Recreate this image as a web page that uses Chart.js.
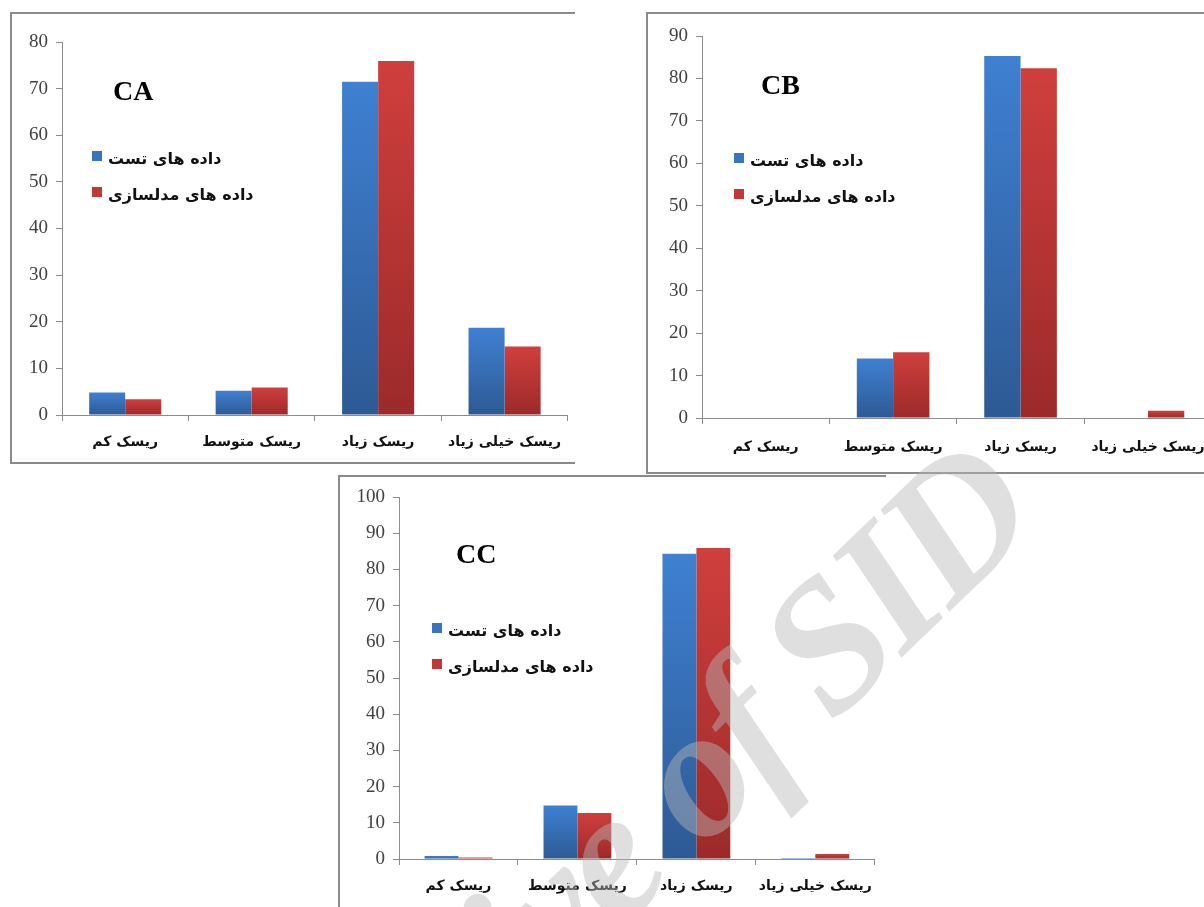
<!DOCTYPE html>
<html>
<head>
<meta charset="utf-8">
<script src="https://cdn.jsdelivr.net/npm/chart.js@4.4.0/dist/chart.umd.min.js"></script>
<style>
  html, body { margin: 0; padding: 0; background: #fff; }
  body { width: 1204px; height: 907px; overflow: hidden; position: relative; }
  .box { position: absolute; box-sizing: border-box; border: 0 solid #8a8a8a; }
  canvas { position: absolute; }
</style>
</head>
<body>
<div class="box" style="left:10px;top:12px;width:565px;height:452px;border-left-width:2px;border-top-width:2px;border-bottom-width:2px;"></div>
<div class="box" style="left:646px;top:12px;width:600px;height:462px;border-left-width:2px;border-top-width:2px;border-bottom-width:2px;"></div>
<div class="box" style="left:338px;top:475px;width:548px;height:460px;border-left-width:2px;border-top-width:2px;"></div>

<canvas id="ca" width="565" height="451" style="left:10px;top:12px;"></canvas>
<canvas id="cb" width="574" height="461" style="left:646px;top:12px;"></canvas>
<canvas id="cc" width="548" height="432" style="left:338px;top:475px;"></canvas>
<canvas id="mark" width="1204" height="907" style="left:0;top:0;pointer-events:none;"></canvas>

<script>
// categories and series
const categories = ['ریسک کم', 'ریسک متوسط', 'ریسک زیاد', 'ریسک خیلی زیاد'];
const seriesNames = ['داده های تست', 'داده های مدلسازی'];

// values
const caTest  = [4.8, 5.2, 71.5, 18.7];
const caModel = [3.4, 5.9, 75.9, 14.7];
const cbTest  = [0, 14.0, 85.3, 0];
const cbModel = [0, 15.5, 82.4, 1.7];
const ccTest  = [0.8, 14.8, 84.3, 0.3];
const ccModel = [0.4, 12.7, 85.9, 1.4];

const yMax = { CA: 80, CB: 90, CC: 100 };

const blueStops = ['#3f80d2', '#2d5a94'];
const redStops  = ['#cf3f3d', '#9c2a2a'];

function barFill(stops) {
  return function (ctx) {
    const chart = ctx.chart;
    if (!chart.chartArea || ctx.raw == null) return stops[0];
    const y = chart.scales.y;
    const top = y.getPixelForValue(ctx.raw);
    const bot = y.getPixelForValue(0);
    if (bot - top < 2) return stops[0];
    const g = chart.ctx.createLinearGradient(0, top, 0, bot);
    g.addColorStop(0, stops[0]);
    g.addColorStop(1, stops[1]);
    return g;
  };
}

// panel title + legend drawn inside the plot
const panelDeco = {
  id: 'panelDeco',
  afterDraw(chart, args, opts) {
    const c = chart.ctx, a = chart.chartArea;
    c.save();
    c.fillStyle = '#000';
    c.textBaseline = 'middle';
    c.textAlign = 'left';
    c.font = 'bold 28px "Liberation Serif"';
    c.fillText(opts.title, a.left + opts.tx, a.top + opts.ty);
    c.font = 'bold 16px "DejaVu Sans"';
    chart.data.datasets.forEach((ds, i) => {
      const x = a.left + opts.lx, y = a.top + opts.ly + i * 36;
      c.fillStyle = ds.swatch;
      c.fillRect(x, y, 10, 10);
      c.fillStyle = '#111';
      c.fillText(ds.label, x + 16, y + 9);
    });
    c.restore();
  }
};

function makeChart(id, title, test, model, deco, fit) {
  return new Chart(document.getElementById(id), {
    type: 'bar',
    data: {
      labels: categories,
      datasets: [
        { label: seriesNames[0], data: test, backgroundColor: barFill(blueStops), swatch: '#3a74bf' },
        { label: seriesNames[1], data: model, backgroundColor: barFill(redStops), swatch: '#c23836' }
      ]
    },
    options: {
      responsive: false,
      animation: false,
      categoryPercentage: 0.57,
      barPercentage: 1.0,
      layout: { padding: { left: 0, top: fit.top, right: fit.right, bottom: 0 } },
      plugins: {
        legend: { display: false },
        tooltip: { enabled: false },
        panelDeco: Object.assign({ title: title }, deco)
      },
      scales: {
        x: {
          grid: { drawOnChartArea: false, offset: true, tickLength: 6, color: '#8c8c8c' },
          border: { color: '#8c8c8c', width: 1 },
          ticks: { color: '#111', padding: fit.xpad, font: { family: 'DejaVu Sans', size: 14, weight: 'bold' }, maxRotation: 0, autoSkip: false },
          afterFit: s => { s.height = fit.xh; }
        },
        y: {
          min: 0,
          max: yMax[title],
          grid: { drawOnChartArea: false, tickLength: 6, color: '#8c8c8c' },
          border: { color: '#8c8c8c', width: 1 },
          ticks: { stepSize: 10, color: '#404040', padding: 8, font: { family: 'Liberation Serif', size: 19 } },
          afterFit: s => { s.width = fit.yw; }
        }
      }
    },
    plugins: [panelDeco]
  });
}

makeChart('ca', 'CA', caTest, caModel,
  { tx: 51, ty: 51, lx: 30, ly: 109 },
  { top: 30, right: 7, xh: 48, yw: 52, xpad: 13 });
makeChart('cb', 'CB', cbTest, cbModel,
  { tx: 59, ty: 51, lx: 32, ly: 117 },
  { top: 24, right: 4, xh: 55, yw: 56, xpad: 15 });
makeChart('cc', 'CC', ccTest, ccModel,
  { tx: 57, ty: 59, lx: 33, ly: 126 },
  { top: 22, right: 9, xh: 48, yw: 61, xpad: 13 });

// watermark over everything
const m = document.getElementById('mark').getContext('2d');
m.save();
m.translate(1042, 522);
m.rotate(-44 * Math.PI / 180);
m.font = 'italic bold 185px "Liberation Serif"';
m.letterSpacing = '-6px';
m.fillStyle = 'rgba(185,185,185,0.45)';
m.textAlign = 'right';
m.textBaseline = 'alphabetic';
m.fillText('Archive of SID', 0, 0);
m.restore();
</script>
</body>
</html>
